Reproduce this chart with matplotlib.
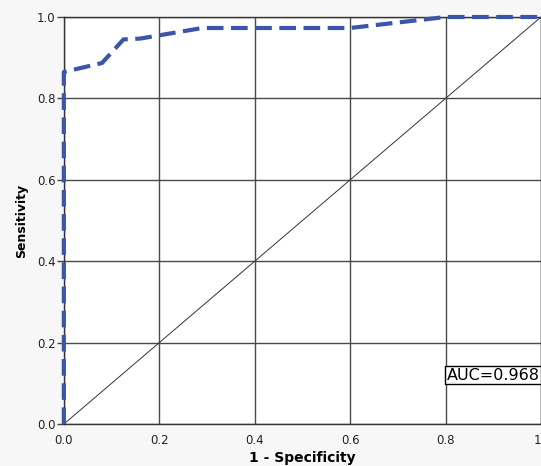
import numpy as np
import matplotlib
matplotlib.use("Agg")
import matplotlib.pyplot as plt

# ROC curve points
fpr = [0.0, 0.0, 0.08, 0.125, 0.16, 0.29, 0.60, 0.80, 1.0]
tpr = [0.0, 0.865, 0.887, 0.945, 0.947, 0.973, 0.973, 1.0, 1.0]
ref_line = [0.0, 1.0]
ticks = [0.0, 0.2, 0.4, 0.6, 0.8, 1.0]
xtick_labels = ["0.0", "0.2", "0.4", "0.6", "0.8", "1"]
ytick_labels = ["0.0", "0.2", "0.4", "0.6", "0.8", "1.0"]
auc_text = "AUC=0.968"

fig = plt.figure(figsize=(5.41, 4.66), dpi=100, facecolor="#f8f7f8")
ax = fig.add_axes([0.118, 0.090, 0.882, 0.8735])
ax.set_facecolor("white")

ax.plot(ref_line, ref_line, color="#333333", lw=0.7, zorder=2)
ax.plot(fpr, tpr, color="#3b55aa", lw=3, ls=(0, (4, 1.8)), zorder=3, clip_on=False)

ax.set_xlim(0, 1)
ax.set_ylim(0, 1)
ax.set_xticks(ticks)
ax.set_xticklabels(xtick_labels)
ax.get_xticklabels()[-1].set_ha("right")
ax.set_yticks(ticks)
ax.set_yticklabels(ytick_labels)
ax.grid(True, color="#4a4a4a", lw=1.0, zorder=1)
ax.set_axisbelow(True)
ax.tick_params(axis="y", direction="out", length=5, width=1, color="#444444",
               labelsize=8.5, pad=1, labelcolor="#222222")
ax.tick_params(axis="x", direction="out", length=0, labelsize=8.5, pad=7,
               labelcolor="#222222")
for s in ax.spines.values():
    s.set_color("#333333")
    s.set_linewidth(1)

ax.set_xlabel("1 - Specificity", fontsize=10, fontweight="bold", labelpad=3)
ax.set_ylabel("Sensitivity", fontsize=9, fontweight="bold", labelpad=6)

ax.text(0.802, 0.12, auc_text, fontsize=11.5, color="black", zorder=5,
        va="center", clip_on=False,
        bbox=dict(boxstyle="square,pad=0.1", fc="white", ec="black", lw=1))

fig.savefig("out.png", dpi=100, facecolor=fig.get_facecolor())
